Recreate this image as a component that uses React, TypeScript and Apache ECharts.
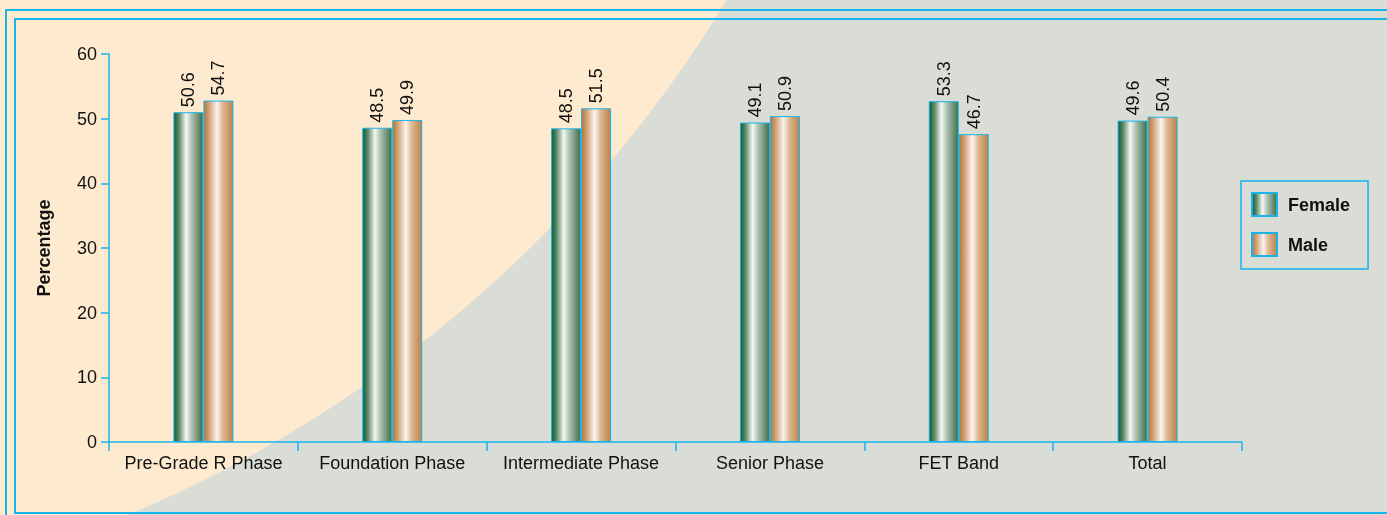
import React, { useEffect, useRef } from "react";
import * as echarts from "echarts";

const categories = ["Pre-Grade R Phase", "Foundation Phase", "Intermediate Phase", "Senior Phase", "FET Band", "Total"];
// bar heights as drawn in the picture
const femaleValues = [51.0, 48.6, 48.5, 49.4, 52.7, 49.7];
const maleValues = [52.8, 49.8, 51.6, 50.4, 47.6, 50.3];
// value labels printed above the bars
const femaleLabels = ["50.6", "48.5", "48.5", "49.1", "53.3", "49.6"];
const maleLabels = ["54.7", "49.9", "51.5", "50.9", "46.7", "50.4"];
const yTicks = [0, 10, 20, 30, 40, 50, 60];

const FONT = "'Liberation Sans', Arial, sans-serif";
const CYAN = "#19B4EC";

export default function App() {
  const ref = useRef<HTMLDivElement>(null);
  useEffect(() => {
    if (!ref.current) return;
    const chart = echarts.init(ref.current, undefined, { renderer: "svg" });
    const femaleGrad = new echarts.graphic.LinearGradient(0, 0, 1, 0, [
      { offset: 0, color: "#0D5A30" },
      { offset: 0.18, color: "#5F8C6C" },
      { offset: 0.42, color: "#F6F7F3" },
      { offset: 0.6, color: "#B1C4B5" },
      { offset: 1, color: "#3D6E4A" },
    ]);
    const maleGrad = new echarts.graphic.LinearGradient(0, 0, 1, 0, [
      { offset: 0, color: "#B4763A" },
      { offset: 0.2, color: "#D5A77C" },
      { offset: 0.45, color: "#FBF4EE" },
      { offset: 0.65, color: "#DDB894" },
      { offset: 1, color: "#BB8248" },
    ]);
    const labelBase = {
      show: true,
      position: "top" as const,
      rotate: 90,
      align: "left" as const,
      verticalAlign: "middle" as const,
      distance: 5,
      fontSize: 18,
      fontFamily: FONT,
      color: "#111",
    };
    chart.setOption({
      animation: false,
      backgroundColor: "transparent",
      graphic: [
        { type: "rect", z: 100, silent: true, shape: { x: 6, y: 10, width: 1500, height: 600 }, style: { fill: "none", stroke: CYAN, lineWidth: 2 } },
        { type: "rect", z: 100, silent: true, shape: { x: 15, y: 19, width: 1500, height: 494 }, style: { fill: "none", stroke: CYAN, lineWidth: 2 } },
      ],
      grid: { left: 109, right: 145, top: 54, bottom: 73, containLabel: false },
      legend: {
        orient: "vertical",
        left: 1241,
        top: 181,
        itemWidth: 25,
        itemHeight: 23,
        itemGap: 15,
        padding: [11, 18, 12, 10],
        borderColor: CYAN,
        borderWidth: 1.5,
        icon: "rect",
        textStyle: { fontSize: 18, fontWeight: "bold", fontFamily: FONT, color: "#111", padding: [0, 0, 0, 6] },
        data: ["Female", "Male"],
      },
      xAxis: {
        type: "category",
        data: categories,
        axisLine: { lineStyle: { color: CYAN, width: 1.5 } },
        axisTick: { show: true, interval: 0, length: 9, lineStyle: { color: CYAN, width: 1.5 } },
        axisLabel: { interval: 0, fontSize: 18, fontFamily: FONT, color: "#111", margin: 12 },
      },
      yAxis: {
        type: "value",
        min: yTicks[0],
        max: yTicks[yTicks.length - 1],
        interval: 10,
        name: "Percentage",
        nameLocation: "middle",
        nameGap: 56,
        nameTextStyle: { fontSize: 18, fontWeight: "bold", fontFamily: FONT, color: "#111" },
        splitLine: { show: false },
        axisLine: { show: true, lineStyle: { color: CYAN, width: 1.5 } },
        axisTick: { show: true, length: 8, lineStyle: { color: CYAN, width: 1.5 } },
        axisLabel: { fontSize: 18, fontFamily: FONT, color: "#111", margin: 12 },
      },
      series: [
        {
          name: "Female",
          type: "bar",
          data: femaleValues,
          barWidth: 30,
          barGap: "0%",
          itemStyle: { color: femaleGrad, borderColor: CYAN, borderWidth: 1 },
          label: { ...labelBase, formatter: (p: any) => femaleLabels[p.dataIndex] },
        },
        {
          name: "Male",
          type: "bar",
          data: maleValues,
          barWidth: 30,
          barGap: "0%",
          itemStyle: { color: maleGrad, borderColor: CYAN, borderWidth: 1 },
          label: { ...labelBase, formatter: (p: any) => maleLabels[p.dataIndex] },
        },
      ],
    });
    return () => chart.dispose();
  }, []);
  return (
    <div
      style={{
        position: "fixed",
        left: 0,
        top: 0,
        width: 1387,
        height: 515,
        background: "radial-gradient(circle 1275px at -363px -662px, #FEEBCF 1274.5px, #DADCD6 1275.5px)",
      }}
    >
      <div ref={ref} style={{ width: 1387, height: 515 }} />
    </div>
  );
}
